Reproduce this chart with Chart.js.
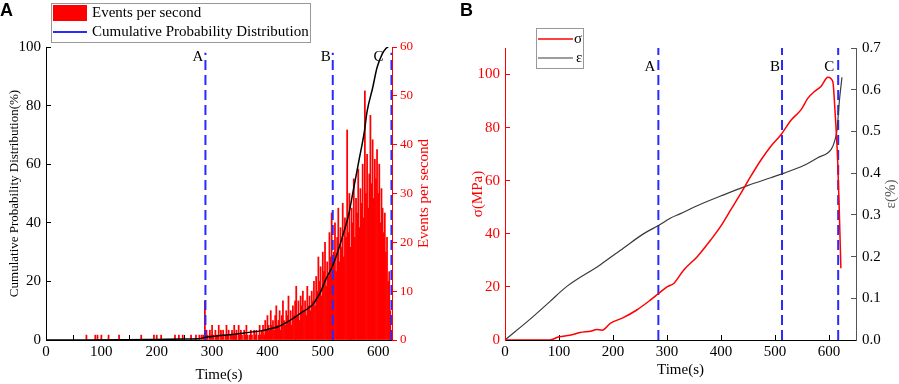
<!DOCTYPE html>
<html>
<head>
<meta charset="utf-8">
<script src="https://cdn.jsdelivr.net/npm/chart.js@4.4.1/dist/chart.umd.min.js"></script>
<style>
  html, body { margin: 0; padding: 0; background: #fff; }
  #wrap { position: relative; width: 899px; height: 384px; }
  #chartA { position: absolute; left: 0; top: 0; }
  #chartB { position: absolute; left: 450px; top: 0; }
</style>
</head>
<body>
<div id="wrap">
  <canvas id="chartA" width="450" height="384"></canvas>
  <canvas id="chartB" width="449" height="384"></canvas>
</div>
<script>
// ---- panel A: acoustic emission ----
// isolated events before the main activity (s, events)
const sparseTimes = [73, 89, 93, 100, 113, 132, 172, 195, 200, 208, 233, 240, 247, 262, 271, 277, 281, 284, 287];
const sparseCounts = [1, 1, 1, 1, 1, 1, 1, 1, 1, 1, 1, 1, 1, 1, 1, 1, 1, 1, 8];
// dense part, one bin every 2 s starting at 290 s
const denseStart = 290;
const denseCounts = [
  2, 1, 0, 2, 1, 3, 1, 0, 2, 1, 1, 3, 0, 2, 1, 2, 0, 1, 3, 1, 2, 0, 1, 2, 1,
  3, 1, 2, 0, 3, 1, 2, 1, 0, 2, 1, 3, 1, 0, 1, 2, 1, 0, 2, 1, 2, 0, 1, 3, 1,
  2, 3, 1, 4, 2, 5, 3, 2, 6, 3, 4, 2, 5, 7, 3, 4, 6, 2, 5, 8, 4, 3, 6, 5, 9, 4, 6, 3, 7, 5,
  8, 11, 5, 8, 4, 9, 7, 10, 6, 8, 5, 11, 7, 9, 6, 10, 8, 12, 7, 13,
  10, 17, 12, 15, 9, 18, 14, 20, 11, 16, 13, 22, 17, 26, 15,
  18, 24, 14, 21, 27, 16, 23, 19, 28, 17, 25, 21,
  43, 22, 30, 19, 27, 24, 33, 21, 29, 26, 35, 23, 31, 28, 36, 25,
  51, 30, 38, 27, 34, 46, 32, 41, 29, 37, 33, 39,
  30, 36, 24, 31, 27, 22,
  26, 18, 21, 12, 14, 6
];
const cumTimes = [0, 70, 150, 200, 250, 280, 287, 300, 340, 390, 400, 420, 436, 450, 460, 475, 484, 490, 495, 505, 517, 525, 535, 547, 555, 565, 575, 580, 590, 598, 607, 614, 618];
const cumValues = [0, 0, 0.1, 0.2, 0.3, 0.5, 0.9, 1.2, 2, 3.2, 3.6, 4.6, 6.2, 7.8, 9.2, 11, 12.6, 14.5, 16, 20.5, 25, 29, 35, 43, 51, 61, 71, 78, 86, 93, 97.5, 99.5, 100];
const markerNames = ["A", "B", "C"];
const markersA = [288, 518, 624];

// ---- panel B: stress and strain ----
const sigmaTimes = [0, 60, 83, 100, 120, 139, 160, 170, 180, 195, 219, 244, 269, 285, 300, 313, 331, 356, 381, 399, 418, 437, 455, 474, 492, 511, 530, 548, 561, 573, 585, 598, 607, 611, 616, 619, 622];
const sigmaValues = [0, 0, 0, 1.2, 1.8, 2.8, 3.4, 4, 3.7, 6.3, 8.4, 11.3, 15, 17.6, 20, 21.4, 26.4, 31.4, 37.7, 42.7, 49, 55.3, 61.6, 67.8, 72.9, 77.3, 82.9, 86.7, 91.1, 93.6, 95.5, 99, 97.4, 86.7, 67.8, 49, 27];
const epsTimes = [0, 52, 83, 114, 176, 219, 257, 285, 306, 325, 356, 405, 449, 492, 517, 554, 579, 604, 610, 615, 619, 624];
const epsValues = [0, 0.056, 0.092, 0.128, 0.18, 0.22, 0.255, 0.275, 0.292, 0.303, 0.322, 0.348, 0.37, 0.389, 0.4, 0.419, 0.437, 0.457, 0.475, 0.505, 0.57, 0.63];
const markersB = [284, 513, 617];

Chart.defaults.font.family = "'Liberation Serif', 'Times New Roman', serif";
Chart.defaults.font.size = 15;
Chart.defaults.color = "#000";

function toPoints(xs, ys) {
  return xs.map((x, i) => ({ x: x, y: ys[i] }));
}

const eventPoints = toPoints(sparseTimes, sparseCounts).concat(
  denseCounts.map((v, i) => ({ x: denseStart + 2 * i, y: v }))
);

function markerSets(times, top, axis) {
  return times.map((t) => ({
    type: "line",
    data: [{ x: t, y: 0 }, { x: t, y: top }],
    borderColor: "#2a2aff",
    borderWidth: 2,
    borderDash: [10, 5],
    pointRadius: 0,
    yAxisID: axis,
    order: 2,
  }));
}

// letter, A/B/C labels, legend box and right title reading upwards
const decor = {
  id: "decor",
  afterDatasetsDraw(chart, args, o) {
    const ctx = chart.ctx;
    const xs = chart.scales.x;
    const area = chart.chartArea;
    ctx.save();
    ctx.fillStyle = "#000";
    ctx.font = "bold 18px 'Liberation Sans', Arial, sans-serif";
    ctx.textAlign = "left";
    ctx.textBaseline = "alphabetic";
    ctx.fillText(o.letter, o.letterX, 16);

    ctx.font = "15px 'Liberation Serif', serif";
    ctx.textAlign = "right";
    ctx.textBaseline = "middle";
    o.markers.forEach((t, i) => {
      ctx.fillText(markerNames[i], xs.getPixelForValue(t) + o.labelDx[i], o.labelY);
    });

    // legend
    const lg = o.legend;
    ctx.strokeStyle = "#999";
    ctx.lineWidth = 1;
    ctx.strokeRect(lg.x + 0.5, lg.y + 0.5, lg.w, lg.h);
    ctx.textAlign = "left";
    lg.items.forEach((it) => {
      if (it.kind === "box") {
        ctx.fillStyle = it.color;
        ctx.fillRect(lg.sx0, it.y - 8, lg.sx1 - lg.sx0, 16);
      } else {
        ctx.strokeStyle = it.color;
        ctx.lineWidth = it.width;
        ctx.beginPath();
        ctx.moveTo(lg.sx0, it.y);
        ctx.lineTo(lg.sx1, it.y);
        ctx.stroke();
      }
      ctx.fillStyle = "#000";
      ctx.fillText(it.text, it.tx, it.y);
    });

    // right axis title
    const r = chart.scales.y2;
    ctx.translate(r.right - o.rtOffset, (area.top + area.bottom) / 2);
    ctx.rotate(-Math.PI / 2);
    ctx.textAlign = "center";
    ctx.fillStyle = o.rtColor;
    ctx.font = "15px 'Liberation Serif', serif";
    ctx.fillText(o.rtText, 0, 0);
    ctx.restore();
  },
};

function axisGrid(color, len) {
  return { drawOnChartArea: false, drawTicks: true, tickLength: len, color: color, tickColor: color };
}

new Chart(document.getElementById("chartA"), {
  type: "line",
  data: {
    datasets: [
      {
        label: "Cumulative Probability Distribution",
        data: toPoints(cumTimes, cumValues),
        borderColor: "#000",
        borderWidth: 1.5,
        pointRadius: 0,
        cubicInterpolationMode: "monotone",
        yAxisID: "y",
        order: 0,
      },
      ...markerSets(markersA, 98, "y"),
      {
        type: "bar",
        label: "Events per second",
        data: eventPoints,
        backgroundColor: "#ff0000",
        borderWidth: 0,
        barPercentage: 1,
        categoryPercentage: 1,
        yAxisID: "y2",
        order: 5,
      },
    ],
  },
  options: {
    responsive: false,
    animation: false,
    events: [],
    layout: { padding: { top: 47, left: 0, right: 0, bottom: 0 } },
    plugins: {
      legend: { display: false },
      tooltip: { enabled: false },
      decor: {
        letter: "A",
        letterX: 0,
        markers: markersA,
        labelDx: [-2, -2, -8],
        labelY: 57,
        rtText: "Events per second",
        rtColor: "#ff0000",
        rtOffset: 26,
        legend: {
          x: 51, y: 3, w: 259, h: 39, sx0: 53, sx1: 87,
          items: [
            { kind: "box", color: "#ff0000", text: "Events per second", tx: 92, y: 13 },
            { kind: "line", color: "#2a2aff", width: 2, text: "Cumulative Probability Distribution", tx: 92, y: 32 },
          ],
        },
      },
    },
    scales: {
      x: {
        type: "linear",
        min: 0,
        max: 625,
        offset: false,
        ticks: { stepSize: 100, includeBounds: false, maxRotation: 0, padding: 8 },
        grid: axisGrid("#000", -5),
        border: { color: "#000" },
        title: { display: true, text: "Time(s)", padding: { top: 0, bottom: 0 } },
        afterFit(s) { s.height = 44; },
      },
      y: {
        position: "left",
        min: 0,
        max: 100,
        ticks: { stepSize: 20, padding: 10 },
        grid: axisGrid("#000", -5),
        border: { color: "#000" },
        title: {
          display: true,
          text: "Cumulative Probability Distribution(%)",
          font: { size: 13 },
          padding: { top: 7, bottom: 0 },
        },
        afterFit(s) { s.width = 46; },
      },
      y2: {
        position: "right",
        min: 0,
        max: 60,
        ticks: { stepSize: 10, color: "#ff0000", padding: 3, font: { size: 13 } },
        grid: axisGrid("#ff0000", 5),
        border: { color: "#ff0000" },
        afterFit(s) { s.width = 58; },
      },
    },
  },
  plugins: [decor],
});

new Chart(document.getElementById("chartB"), {
  type: "line",
  data: {
    datasets: [
      {
        label: "σ",
        data: toPoints(sigmaTimes, sigmaValues),
        borderColor: "#ff0000",
        borderWidth: 1.5,
        pointRadius: 0,
        cubicInterpolationMode: "monotone",
        yAxisID: "y",
        order: 0,
      },
      {
        label: "ε",
        data: toPoints(epsTimes, epsValues),
        borderColor: "#3a3a3a",
        borderWidth: 1.2,
        pointRadius: 0,
        cubicInterpolationMode: "monotone",
        yAxisID: "y2",
        order: 1,
      },
      ...markerSets(markersB, 110, "y"),
    ],
  },
  options: {
    responsive: false,
    animation: false,
    events: [],
    layout: { padding: { top: 48, left: 0, right: 0, bottom: 0 } },
    plugins: {
      legend: { display: false },
      tooltip: { enabled: false },
      decor: {
        letter: "B",
        letterX: 10,
        markers: markersB,
        labelDx: [-3, -2, -4],
        labelY: 67,
        rtText: "ε(%)",
        rtColor: "#555",
        rtOffset: 8,
        legend: {
          x: 86, y: 28, w: 47, h: 40, sx0: 88, sx1: 123,
          items: [
            { kind: "line", color: "#ff0000", width: 1.5, text: "σ", tx: 124, y: 39 },
            { kind: "line", color: "#3a3a3a", width: 1.2, text: "ε", tx: 126, y: 58 },
          ],
        },
      },
    },
    scales: {
      x: {
        type: "linear",
        min: 0,
        max: 650,
        offset: false,
        ticks: { stepSize: 100, includeBounds: false, maxRotation: 0, padding: 8 },
        grid: axisGrid("#000", -5),
        border: { color: "#000" },
        title: { display: true, text: "Time(s)", padding: { top: 0, bottom: 5 } },
        afterFit(s) { s.height = 44; },
      },
      y: {
        position: "left",
        min: 0,
        max: 110,
        ticks: { stepSize: 20, includeBounds: false, padding: 10, color: "#ff0000" },
        grid: axisGrid("#ff0000", -5),
        border: { color: "#ff0000" },
        title: { display: true, text: "σ(MPa)", color: "#ff0000", padding: { top: 19, bottom: 0 } },
        afterFit(s) { s.width = 55; },
      },
      y2: {
        position: "right",
        min: 0,
        max: 0.7,
        ticks: { stepSize: 0.1, padding: 11, callback: (v) => v.toFixed(1) },
        grid: axisGrid("#555", -5),
        border: { color: "#555" },
        afterFit(s) { s.width = 43; },
      },
    },
  },
  plugins: [decor],
});
</script>
</body>
</html>
